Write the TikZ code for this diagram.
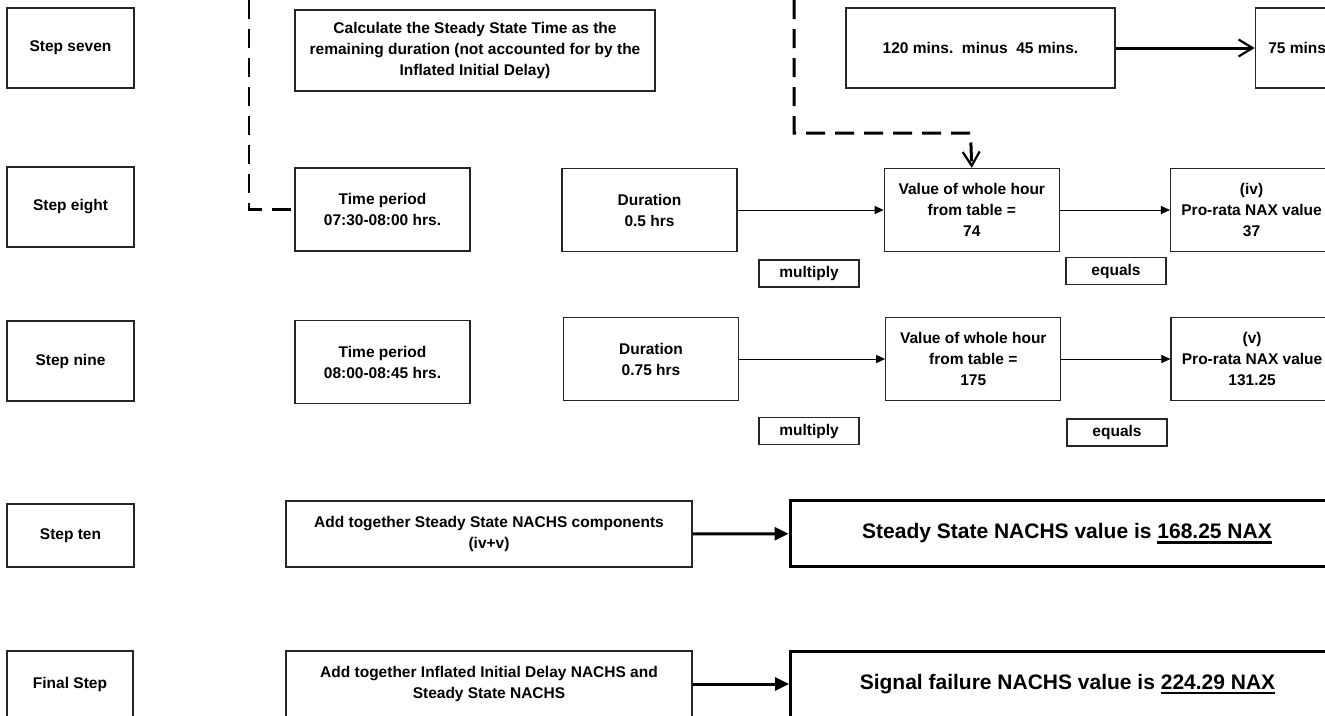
\documentclass[tikz,border=0pt]{standalone}
\usepackage{fontspec}
\setmainfont{Liberation Sans}
\usetikzlibrary{arrows.meta,positioning}
\newcommand{\heavyul}[1]{\setbox0\hbox{#1}\rlap{\rule[-5pt]{\wd0}{2.3pt}}\box0}

\begin{document}
\begin{tikzpicture}[x=1pt,y=-1pt,
  box/.style={draw=black!85,line width=1.3pt,align=center,inner sep=0pt,
              minimum width=175pt,minimum height=83pt,
              font=\fontsize{15.5}{21}\selectfont\bfseries},
  stepbox/.style={box,minimum width=127pt,minimum height=80pt},
  opbox/.style={box,minimum width=100pt,minimum height=27pt},
  totalbox/.style={draw,line width=3pt,align=center,inner sep=0pt,
                   minimum width=554pt,minimum height=66pt,
                   font=\fontsize{21}{26}\selectfont\bfseries},
  arrow/.style={-{Triangle[length=9pt,width=8pt]},line width=1pt},
  thickarrow/.style={-{Triangle[length=14pt,width=13pt]},line width=3pt},
  openarrow/.style={-{Straight Barb[length=14pt,width=17pt,line width=2.2pt]},line width=3pt},
  dashline/.style={line width=2.6pt,dash pattern=on 19pt off 10pt}
]
\path[fill=white,use as bounding box] (0,0) rectangle (1325,715);

\node[stepbox] (stepseven) at (70.5,48) {Step seven};
\node[box,minimum width=360pt,minimum height=81pt] (steadytime) at (475,50.5) {Calculate the Steady State Time as the\\remaining duration (not accounted for by the\\Inflated Initial Delay)};
\node[box,minimum width=269pt,minimum height=80pt] (minus) at (980.5,48) {120 mins.~~minus~~45 mins.};
\node[box,minimum width=88pt,minimum height=80pt,right=139pt of minus] (remain) {75 mins.};

\node[stepbox] (stepeight) at (70.5,207) {Step eight};
\node[box] (perioda) at (382.5,209.5) {Time period\\07:30-08:00 hrs.};
\node[box] (durationa) at (649.5,210) {Duration\\0.5 hrs};
\node[box,right=146pt of durationa] (valuea) {Value of whole hour\\from table =\\74};
\node[box,minimum width=162pt,right=110pt of valuea] (proratea) {(iv)\\Pro-rata NAX value\\37};
\node[opbox] (multiplya) at (809,273.5) {multiply};
\node[opbox] (equalsa) at (1116,271) {equals};

\node[stepbox] (stepnine) at (70.5,361) {Step nine};
\node[box] (periodb) at (382.5,362) {Time period\\08:00-08:45 hrs.};
\node[box] (durationb) at (651,359) {Duration\\0.75 hrs};
\node[box,right=146pt of durationb] (valueb) {Value of whole hour\\from table =\\175};
\node[box,minimum width=162pt,right=109pt of valueb] (prorateb) {(v)\\Pro-rata NAX value\\131.25};
\node[opbox] (multiplyb) at (809,431) {multiply};
\node[opbox] (equalsb) at (1117,432.5) {equals};

\node[stepbox,minimum height=63pt] (stepten) at (70.5,535.5) {Step ten};
\node[box,minimum width=406pt,minimum height=66pt] (addsteady) at (489,534) {Add together Steady State NACHS components\\(iv+v)};
\node[totalbox] (steadytotal) at (1067,533.5) {Steady State NACHS value is \heavyul{168.25 NAX}};

\node[stepbox,minimum width=126pt,minimum height=66pt] (finalstep) at (70,684) {Final Step};
\node[box,minimum width=406pt,minimum height=66pt] (addall) at (489,684) {Add together Inflated Initial Delay NACHS and\\Steady State NACHS};
\node[totalbox] (signaltotal) at (1067.5,684) {Signal failure NACHS value is \heavyul{224.29 NAX}};

\coordinate (topa) at (249,0);
\coordinate (topb) at (794,0);
\coordinate (bendb) at (970.5,133);

\draw[dashline] (topa) |- (perioda.west);
\draw[dashline,openarrow] (topb) |- (bendb) -- (valuea.north);
\draw[openarrow] (minus) -- (remain);
\draw[arrow] (durationa) -- (valuea);
\draw[arrow] (valuea) -- (proratea);
\draw[arrow] (durationb) -- (valueb);
\draw[arrow] (valueb) -- (prorateb);
\draw[thickarrow] (addsteady) -- (steadytotal);
\draw[thickarrow] (addall) -- (signaltotal);
\end{tikzpicture}
\end{document}
